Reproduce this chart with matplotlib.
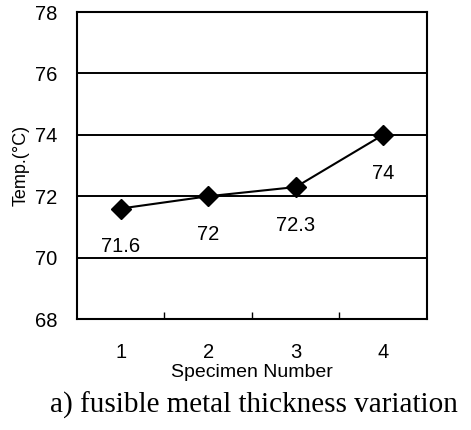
import matplotlib.pyplot as plt
from matplotlib.ticker import FixedLocator

specimens = [1, 2, 3, 4]
temps = [71.6, 72, 72.3, 74]
labels = ["71.6", "72", "72.3", "74"]
yticks = [68, 70, 72, 74, 76, 78]

plt.rcParams['font.family'] = ['Liberation Sans', 'DejaVu Sans']

fig = plt.figure(figsize=(4.71, 4.30), dpi=100)
ax = fig.add_axes([0.1635, 0.258, 0.743, 0.714])

for y in yticks[1:-1]:
    ax.axhline(y, color="black", lw=1.4, zorder=1)

ax.plot(specimens, temps, color="black", lw=1.5, marker="D", markersize=10, zorder=3)
for x, y, t in zip(specimens, temps, labels):
    ax.annotate(t, (x, y), xytext=(0, -27.5), textcoords="offset points",
                ha="center", va="center", fontsize=14.5)

ax.set_xlim(0.5, 4.5)
ax.set_ylim(68, 78)
ax.set_xticks(specimens)
ax.xaxis.set_minor_locator(FixedLocator([1.5, 2.5, 3.5]))
ax.tick_params(axis="x", which="major", length=0, labelsize=14.5, pad=17)
ax.tick_params(axis="x", which="minor", direction="in", length=5, width=1)
ax.set_yticks(yticks)
ax.tick_params(axis="y", length=0, labelsize=14.5, pad=14)
for s in ax.spines.values():
    s.set_linewidth(1.5)

ax.set_xlabel("Specimen Number", fontsize=14, labelpad=2)
ax.set_ylabel("Temp.(°C)", fontsize=13, labelpad=4)

fig.text(0.54, 0.058, "a) fusible metal thickness variation", ha="center", va="center",
         fontsize=21, family="Liberation Serif")

fig.savefig("out.png", dpi=100)
